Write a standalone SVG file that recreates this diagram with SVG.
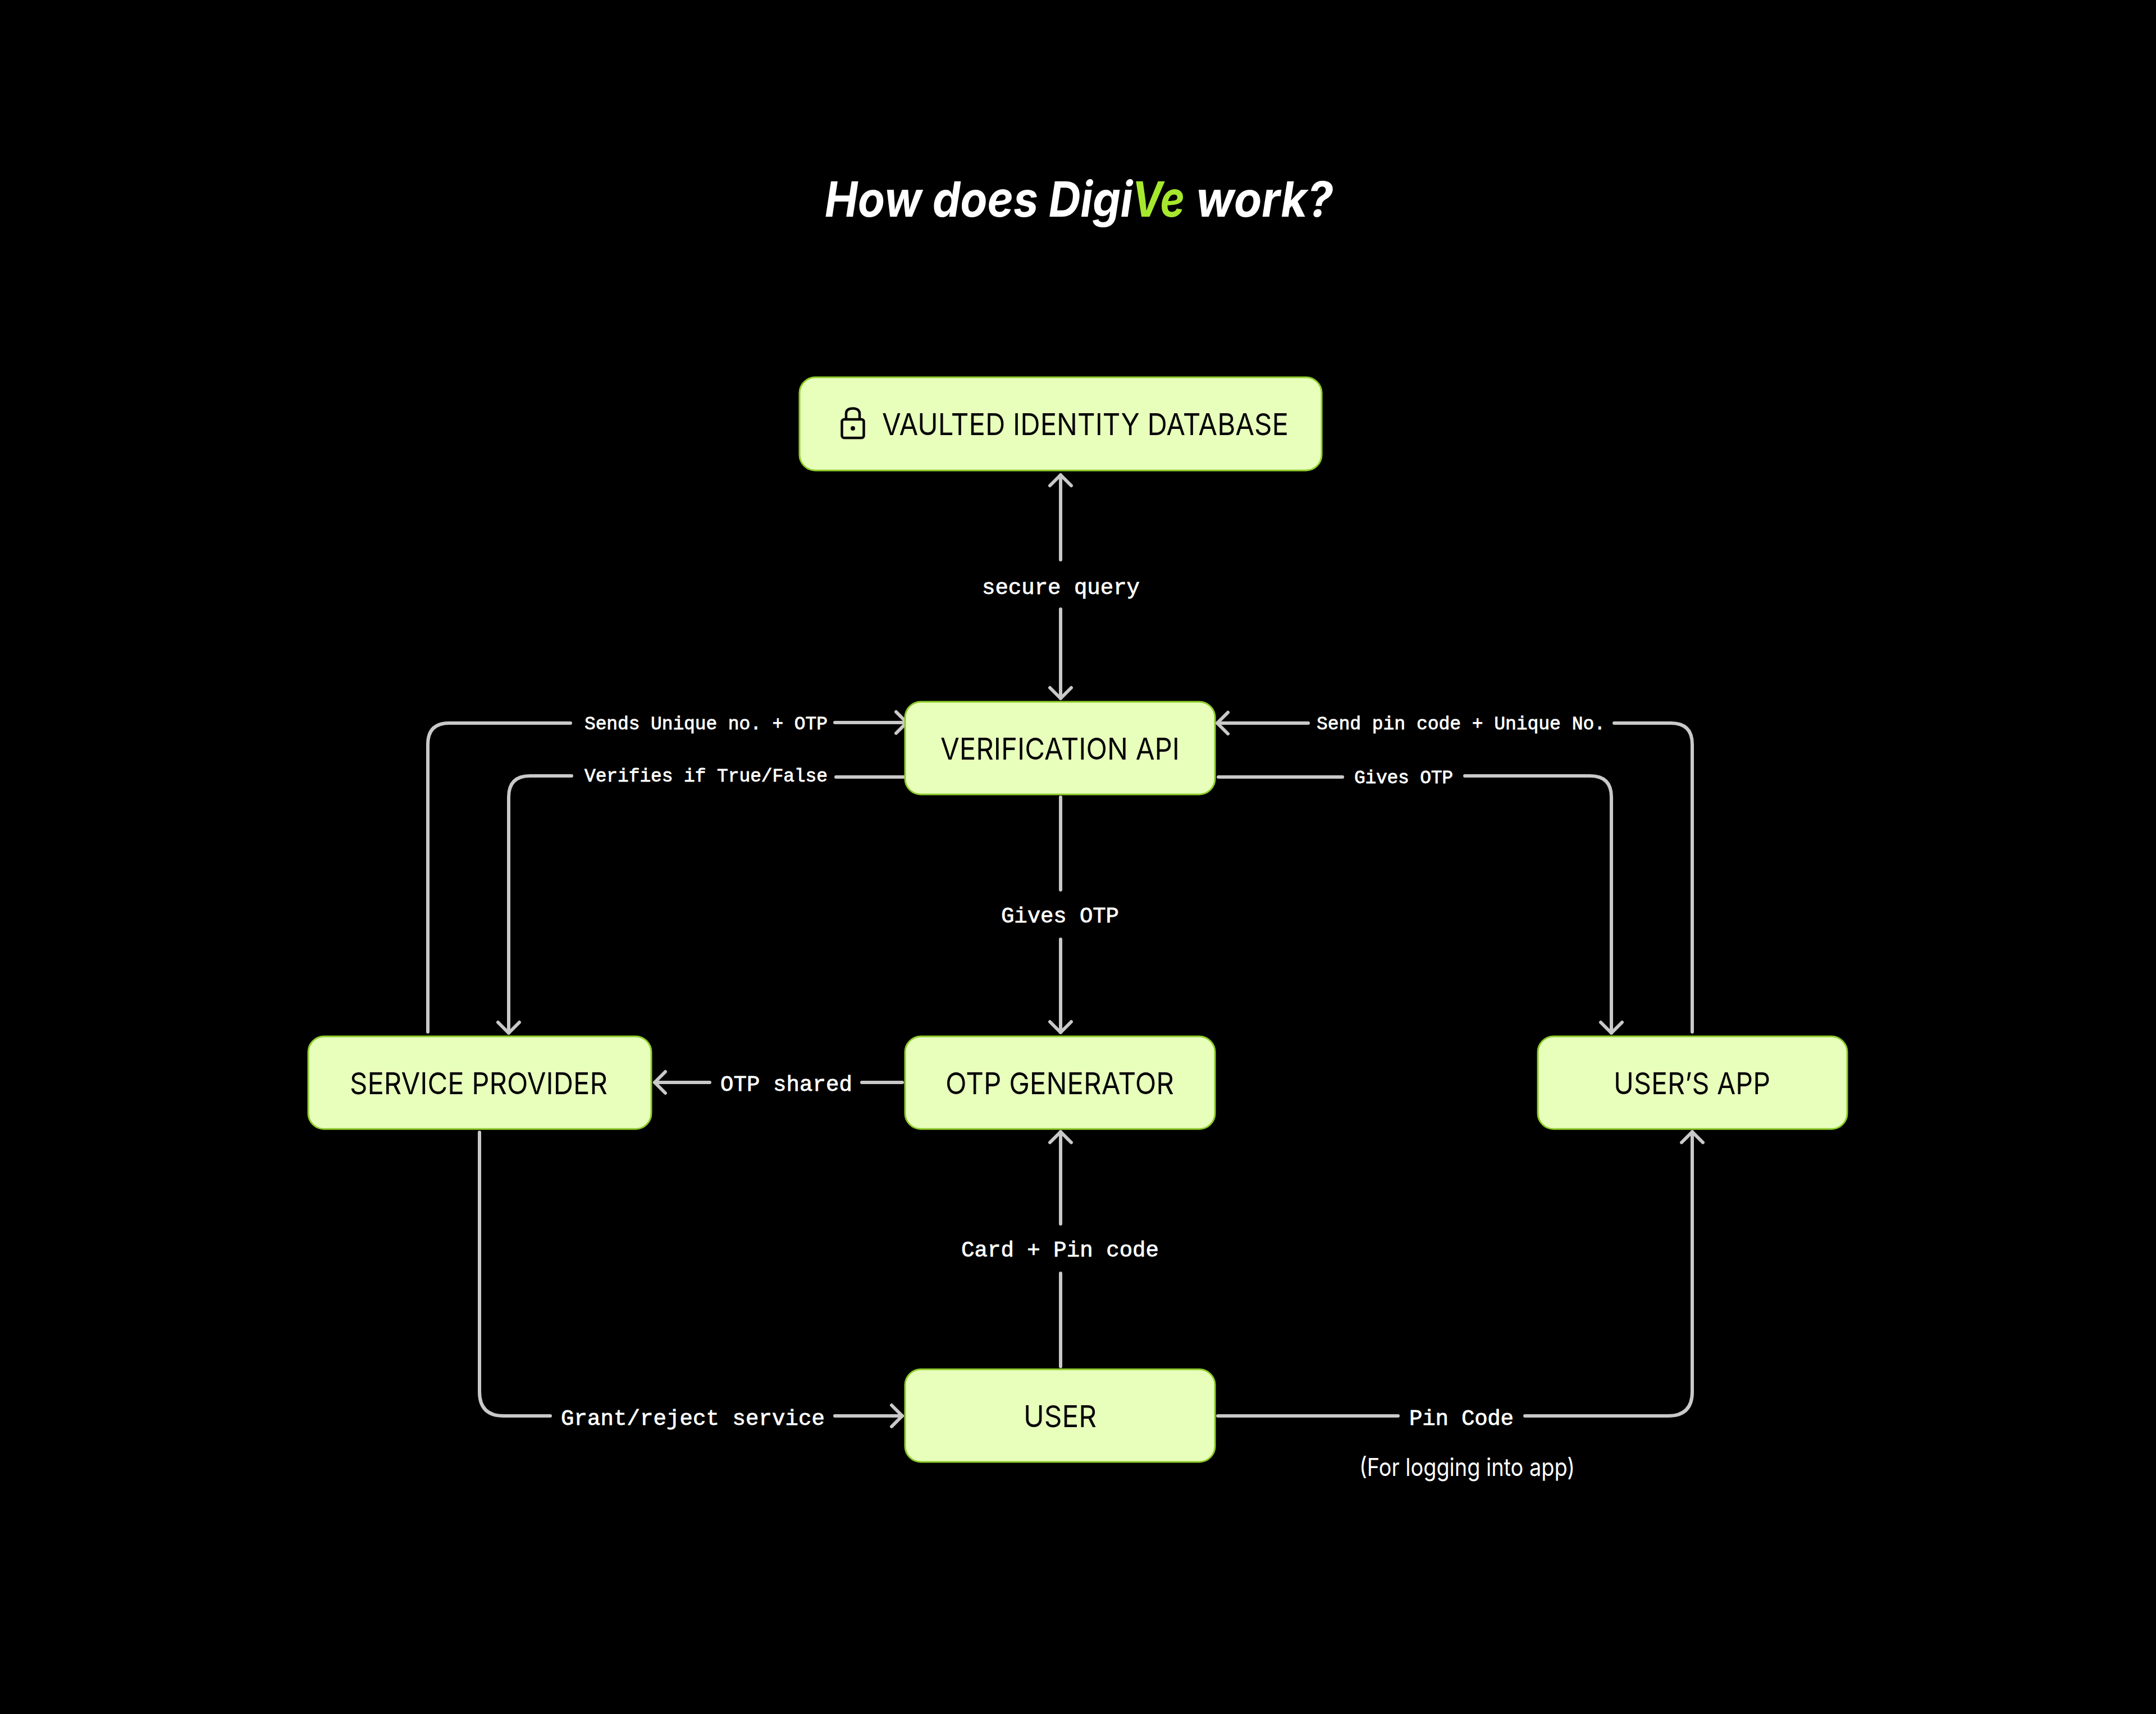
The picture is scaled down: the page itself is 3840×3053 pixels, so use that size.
<svg xmlns="http://www.w3.org/2000/svg" width="3840" height="3053" viewBox="0 0 3840 3053">
<style>
.box{fill:#e8ffbc;stroke:#8ecb2a;stroke-width:3}
.nt{font-family:"Inter","Liberation Sans",sans-serif;font-size:54px;fill:#050505;font-weight:400}
.lb{font-family:"Liberation Mono",monospace;fill:#fff;stroke:#fff;stroke-width:0.8;font-weight:400}
.s{font-size:33px}.m{font-size:39px}
.c{fill:none;stroke:#c9c9c9;stroke-width:6;stroke-linecap:round}
.a{marker-end:url(#ah)}
.tt{font-family:"Inter","Liberation Sans",sans-serif;font-size:87px;font-weight:700;font-style:italic;fill:#fff}
</style>
<defs>
<marker id="ah" markerUnits="userSpaceOnUse" markerWidth="30" markerHeight="50" refX="23" refY="25" orient="auto">
<path d="M4 6 L23 25 L4 44" fill="none" stroke="#c9c9c9" stroke-width="6" stroke-linecap="round" stroke-linejoin="round"/>
</marker>
</defs>
<rect width="3840" height="3053" fill="#000"/>
<g id="title">
<text class="tt" transform="translate(1469 386) scale(.905 1)">How does Digi</text>
<text class="tt" transform="translate(2016 386) scale(.92 1)" style="fill:#a6e82e" textLength="102" lengthAdjust="spacingAndGlyphs">Ve</text>
<text class="tt" transform="translate(2130 386) scale(.92 1)" textLength="265" lengthAdjust="spacingAndGlyphs">work?</text>
</g>
<g id="connectors">
<path class="c a" d="M1889 997V846"/>
<path class="c a" d="M1889 1085V1244"/>
<path class="c" d="M762 1838V1326Q762 1288 800 1288H1016"/>
<path class="c a" d="M1487 1287H1615"/>
<path class="c" d="M1612 1384H1489"/>
<path class="c a" d="M1018 1382H944Q906 1382 906 1420V1840"/>
<path class="c a" d="M2330 1288H2168"/>
<path class="c" d="M3014 1838V1326Q3014 1288 2976 1288H2875"/>
<path class="c" d="M2170 1384H2391"/>
<path class="c a" d="M2609 1382H2832Q2870 1382 2870 1420V1840"/>
<path class="c" d="M1889 1420V1585"/>
<path class="c a" d="M1889 1673V1839"/>
<path class="c a" d="M1264 1928H1166"/>
<path class="c" d="M1607 1928H1535"/>
<path class="c" d="M854 2017V2479Q854 2522 897 2522H980"/>
<path class="c a" d="M1487 2522H1607"/>
<path class="c" d="M1889 2434V2268"/>
<path class="c a" d="M1889 2180V2016"/>
<path class="c" d="M2169 2522H2490"/>
<path class="c a" d="M2716 2522H2971Q3014 2522 3014 2479V2016"/>
</g>
<g id="connector-labels">
<text class="lb m" x="1749" y="1058" textLength="281">secure query</text>
<text class="lb s" x="1041" y="1299" textLength="433">Sends Unique no. + OTP</text>
<text class="lb s" x="1041" y="1392" textLength="433">Verifies if True/False</text>
<text class="lb s" x="2345" y="1299" textLength="514">Send pin code + Unique No.</text>
<text class="lb s" x="2412" y="1395" textLength="176">Gives OTP</text>
<text class="lb m" x="1783" y="1643" textLength="210">Gives OTP</text>
<text class="lb m" x="1283" y="1943" textLength="235">OTP shared</text>
<text class="lb m" x="1712" y="2238" textLength="352">Card + Pin code</text>
<text class="lb m" x="999" y="2538" textLength="470">Grant/reject service</text>
<text class="lb m" x="2510" y="2538" textLength="186">Pin Code</text>
<text id="note" x="2421" y="2629" font-family="Inter,'Liberation Sans',sans-serif" font-size="44" fill="#fff" textLength="384" lengthAdjust="spacingAndGlyphs">(For logging into app)</text>
</g>
<g id="vault">
<rect class="box" x="1424" y="672" width="930" height="166" rx="28"/>
<g fill="none" stroke="#050505" stroke-width="4.5">
<rect x="1499.500" y="747" width="39" height="33" rx="4"/>
<path d="M1507 747V737Q1507 727.500 1519 727.500Q1531 727.500 1531 737V747"/>
</g>
<circle cx="1519" cy="763" r="4" fill="#050505"/>
<text class="nt" x="1571" y="775" textLength="724" lengthAdjust="spacingAndGlyphs">VAULTED IDENTITY DATABASE</text>
</g>
<g id="verification">
<rect class="box" x="1612" y="1250" width="552" height="165" rx="28"/>
<text class="nt" x="1675" y="1353" textLength="426" lengthAdjust="spacingAndGlyphs">VERIFICATION API</text>
</g>
<g id="service">
<rect class="box" x="549" y="1846" width="611" height="165" rx="28"/>
<text class="nt" x="623" y="1949" textLength="459" lengthAdjust="spacingAndGlyphs">SERVICE PROVIDER</text>
</g>
<g id="otp">
<rect class="box" x="1612" y="1846" width="552" height="165" rx="28"/>
<text class="nt" x="1684" y="1949" textLength="407" lengthAdjust="spacingAndGlyphs">OTP GENERATOR</text>
</g>
<g id="app">
<rect class="box" x="2739" y="1846" width="551" height="165" rx="28"/>
<text class="nt" x="2874" y="1949" textLength="279" lengthAdjust="spacingAndGlyphs">USER’S APP</text>
</g>
<g id="user">
<rect class="box" x="1612" y="2439" width="552" height="165" rx="28"/>
<text class="nt" x="1823" y="2542" textLength="130" lengthAdjust="spacingAndGlyphs">USER</text>
</g>
</svg>
